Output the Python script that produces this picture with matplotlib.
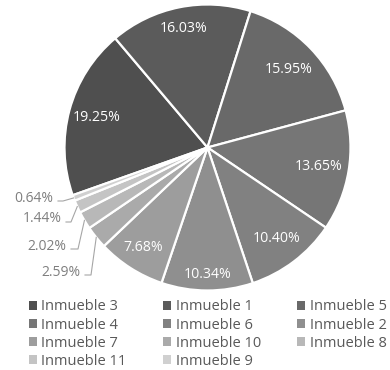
import numpy as np
import matplotlib
matplotlib.use("Agg")
import matplotlib.pyplot as plt
from matplotlib.patches import Patch

categories = ["Inmueble 3", "Inmueble 1", "Inmueble 5", "Inmueble 4", "Inmueble 6",
              "Inmueble 2", "Inmueble 7", "Inmueble 10", "Inmueble 8", "Inmueble 11", "Inmueble 9"]
values = [19.25, 16.03, 15.95, 13.65, 10.40, 10.34, 7.68, 2.59, 2.02, 1.44, 0.64]
colors = ["#4f4f4f", "#5b5b5b", "#696969", "#767676", "#818181", "#8f8f8f",
          "#9d9d9d", "#aaaaaa", "#b8b8b8", "#c4c4c4", "#d0d0d0"]
labels = [f"{v:.2f}%" for v in values]

plt.rcParams['font.family'] = ['Open Sans', 'DejaVu Sans']

W, H = 390, 370
fig = plt.figure(figsize=(W / 100, H / 100), dpi=100)
ax = fig.add_axes([0, 0, 1, 1])

# pixel-like frame with y pointing up
cx, cy, R = 207.5, H - 147.5, 143
startangle = 199.5 - 360

wedges, _ = ax.pie(values, colors=colors, startangle=startangle, counterclock=False,
                   center=(cx, cy), radius=R, frame=True,
                   wedgeprops=dict(edgecolor='white', linewidth=1.6))
ax.set_xlim(0, W)
ax.set_ylim(0, H)
ax.set_aspect('auto')
ax.axis('off')

# inside-label distance (fraction of radius), best-fit style placement
inside_dist = [0.80, 0.85, 0.79, 0.79, 0.80, 0.89, 0.83]
for i, (w, lab, v) in enumerate(zip(wedges, labels, values)):
    th = np.deg2rad((w.theta1 + w.theta2) / 2)
    if v >= 5:
        r = inside_dist[i] * R
        ax.text(cx + r * np.cos(th), cy + r * np.sin(th), lab, ha='center', va='center',
                color='white', fontsize=10.2)

# outside labels for small slices (text layout in screen px, y down)
small_text_pos = {"2.59%": (61, 273), "2.02%": (47, 247), "1.44%": (42, 219), "0.64%": (34, 199)}
small_elbow = {"2.59%": (91, 275), "2.02%": (78, 249), "1.44%": (71, 222), "0.64%": (63, 201)}
for w, lab in zip(wedges, labels):
    if lab in small_text_pos:
        th = np.deg2rad((w.theta1 + w.theta2) / 2)
        ex = cx + R * np.cos(th)
        ey = cy + R * np.sin(th)
        tx, ty = small_text_pos[lab]
        bx, by = small_elbow[lab]
        ax.text(tx, H - ty, lab, ha='center', va='center', color='#7f7f7f', fontsize=10)
        ax.plot([tx + 24, bx, ex], [H - by, H - by, ey], color='#a6a6a6', lw=0.8)

order = [0, 3, 6, 9, 1, 4, 7, 10, 2, 5, 8]
handles = [Patch(facecolor=colors[i], edgecolor='none') for i in order]
leg = ax.legend(handles, [categories[i] for i in order], ncol=3, loc='upper left',
                bbox_to_anchor=(29 / W, 1 - 299.5 / H), frameon=False, fontsize=10.5,
                handlelength=0.55, handleheight=0.55, handletextpad=0.3,
                columnspacing=2.5, labelspacing=0.21, borderaxespad=0, borderpad=0)
for t in leg.get_texts():
    t.set_color('#595959')

fig.savefig("out.png", dpi=100)
